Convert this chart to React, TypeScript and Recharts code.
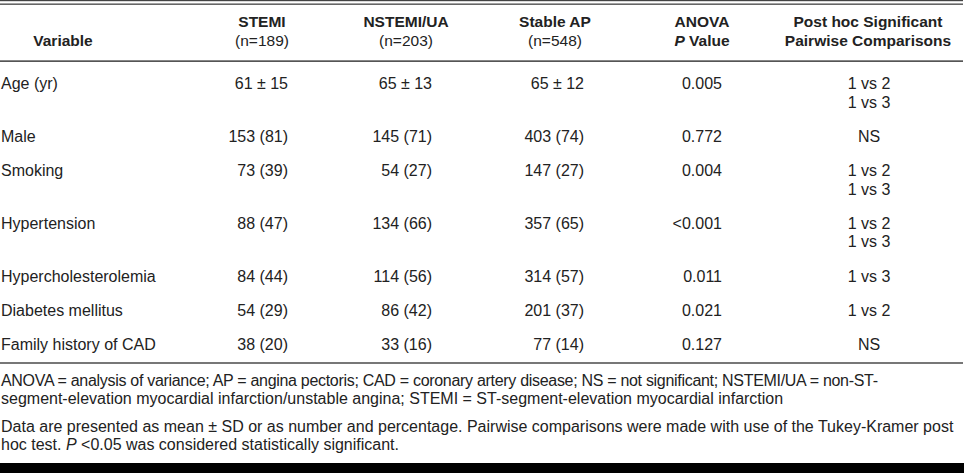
import { ComposedChart, XAxis, YAxis, Customized } from "recharts";

const variables = ["Age (yr)", "Male", "Smoking", "Hypertension", "Hypercholesterolemia", "Diabetes mellitus", "Family history of CAD"];
const stemi = ["61 \u00b1 15", "153 (81)", "73 (39)", "88 (47)", "84 (44)", "54 (29)", "38 (20)"];
const nstemi = ["65 \u00b1 13", "145 (71)", "54 (27)", "134 (66)", "114 (56)", "86 (42)", "33 (16)"];
const stableAp = ["65 \u00b1 12", "403 (74)", "147 (27)", "357 (65)", "314 (57)", "201 (37)", "77 (14)"];
const anovaP = ["0.005", "0.772", "0.004", "<0.001", "0.011", "0.021", "0.127"];
const postHoc = [["1 vs 2", "1 vs 3"], ["NS"], ["1 vs 2", "1 vs 3"], ["1 vs 2", "1 vs 3"], ["1 vs 3"], ["1 vs 2"], ["NS"]];

const groups = ["STEMI", "NSTEMI/UA", "Stable AP"];
const groupN = [189, 203, 548];

const abbrevNote = [
  "ANOVA = analysis of variance; AP = angina pectoris; CAD = coronary artery disease; NS = not significant; NSTEMI/UA = non-ST-",
  "segment-elevation myocardial infarction/unstable angina; STEMI = ST-segment-elevation myocardial infarction",
];
const methodNote = [
  "Data are presented as mean \u00b1 SD or as number and percentage. Pairwise comparisons were made with use of the Tukey-Kramer post",
  "hoc test. |P| <0.05 was considered statistically significant.",
];

const rows = variables.map((v, i) => ({
  variable: v,
  stemi: stemi[i],
  nstemi: nstemi[i],
  stableAp: stableAp[i],
  p: anovaP[i],
  postHoc: postHoc[i],
}));

const W = 964;
const H = 473;
const FONT = "'Liberation Sans', Arial, Helvetica, sans-serif";
const INK = "#222";
const LINE_H = 18.5;
const ROW_GAP = 34.3;

// right edges of the numeric columns, centres of headers
const valueRight = [288, 432, 584];
const headCenter = [262, 406, 555];

function Rich({ x, y, text, anchor = "start", size = 16, weight = 400, len }: any) {
  const parts = String(text).split("|");
  return (
    <text
      x={x}
      y={y}
      textAnchor={anchor}
      fontFamily={FONT}
      fontSize={size}
      fontWeight={weight}
      fill={INK}
      textLength={len}
      lengthAdjust={len ? "spacing" : undefined}
    >
      {parts.map((p, i) => (
        <tspan key={i} fontStyle={i % 2 ? "italic" : "normal"}>{p}</tspan>
      ))}
    </text>
  );
}

function TableLayer() {
  let y = 89;
  const body = rows.map((r, i) => {
    const top = y;
    y += (r.postHoc.length - 1) * LINE_H + ROW_GAP;
    return (
      <g key={i}>
        <Rich x={1} y={top} text={r.variable} />
        {[r.stemi, r.nstemi, r.stableAp].map((v, j) => (
          <Rich key={j} x={valueRight[j]} y={top} text={v} anchor="end" />
        ))}
        <Rich x={722} y={top} text={r.p} anchor="end" />
        {r.postHoc.map((t, k) => (
          <Rich key={k} x={869} y={top + k * LINE_H} text={t} anchor="middle" />
        ))}
      </g>
    );
  });

  return (
    <g>
      <rect x={0} y={0} width={W} height={H} fill="#fff" />
      <rect x={0} y={0} width={963} height={1.2} fill="#444" />
      <rect x={0} y={3.4} width={963} height={1.6} fill="#666" />

      <Rich x={63} y={46} text="Variable" anchor="middle" weight={700} size={15.5} />
      {groups.map((g, j) => (
        <g key={g}>
          <Rich x={headCenter[j]} y={27} text={g} anchor="middle" weight={700} size={15.5} />
          <Rich x={headCenter[j]} y={45.5} text={`(n=${groupN[j]})`} anchor="middle" size={15.5} />
        </g>
      ))}
      <Rich x={702} y={27} text="ANOVA" anchor="middle" weight={700} size={15.5} />
      <Rich x={702} y={45.5} text="|P| Value" anchor="middle" weight={700} size={15.5} />
      <Rich x={868} y={27} text="Post hoc Significant" anchor="middle" weight={700} size={15.5} />
      <Rich x={868} y={45.5} text="Pairwise Comparisons" anchor="middle" weight={700} size={15.5} />
      <rect x={0} y={60.3} width={963} height={1.7} fill="#555" />

      {body}

      <rect x={0} y={362} width={963} height={2} fill="#777" />
      {abbrevNote.map((t, i) => (
        <Rich key={i} x={1} y={386 + i * 18} text={t} len={i === 0 ? 877 : undefined} />
      ))}
      {methodNote.map((t, i) => (
        <Rich key={i} x={1} y={432 + i * 18} text={t} />
      ))}
      <rect x={0} y={463} width={964} height={10} fill="#000" />
    </g>
  );
}

export default function App() {
  return (
    <div style={{ position: "fixed", left: 0, top: 0, width: W, height: H, background: "#fff" }}>
      <ComposedChart width={W} height={H} data={rows} margin={{ top: 0, right: 0, bottom: 0, left: 0 }}>
        <XAxis dataKey="variable" hide />
        <YAxis hide />
        <Customized component={<TableLayer />} />
      </ComposedChart>
    </div>
  );
}
